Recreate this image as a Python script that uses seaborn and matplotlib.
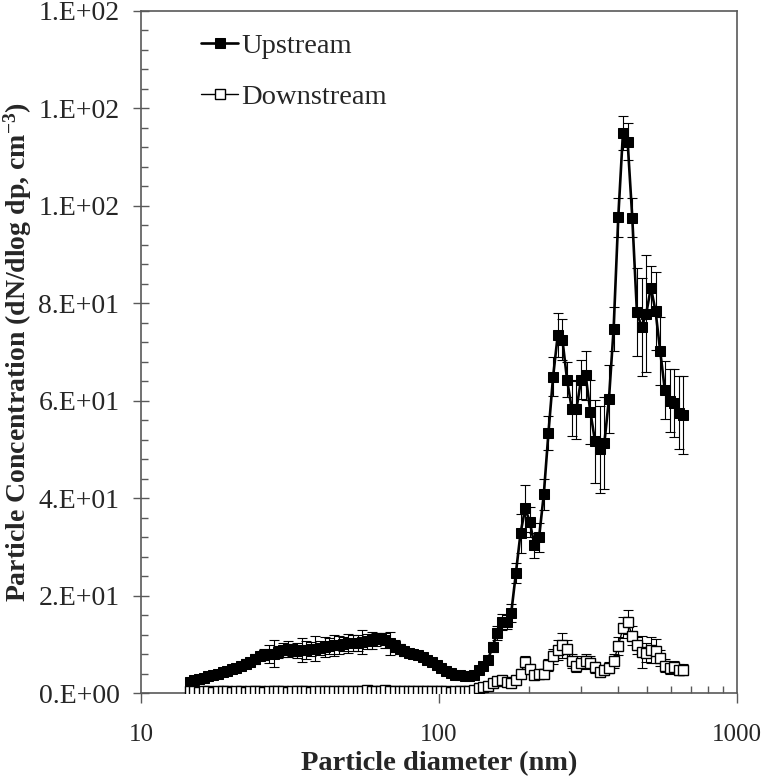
import pandas as pd
import seaborn as sns
import matplotlib.pyplot as plt
from matplotlib.ticker import FixedLocator, MultipleLocator, FuncFormatter, LogLocator, NullFormatter

# SMPS channel mid-point diameters (nm)
diameter = [14.6, 15.1, 15.7, 16.3, 16.8, 17.5, 18.1, 18.8, 19.5, 20.2,
            20.9, 21.7, 22.5, 23.3, 24.1, 25.0, 25.9, 26.9, 27.9, 28.9,
            30.0, 31.1, 32.2, 33.4, 34.6, 35.9, 37.2, 38.5, 40.0, 41.4,
            42.9, 44.5, 46.1, 47.8, 49.6, 51.4, 53.3, 55.2, 57.3, 59.4,
            61.5, 63.8, 66.1, 68.5, 71.0, 73.7, 76.4, 79.1, 82.0, 85.1,
            88.2, 91.4, 94.7, 98.2, 101.8, 105.5, 109.4, 113.4, 117.6, 121.9,
            126.3, 131.0, 135.8, 140.7, 145.9, 151.2, 156.8, 162.5, 168.5, 174.7,
            181.1, 187.7, 194.6, 201.7, 209.1, 216.7, 224.7, 232.9, 241.4, 250.3,
            259.5, 269.0, 278.8, 289.0, 299.6, 310.6, 322.0, 333.8, 346.0, 358.7,
            371.8, 385.4, 399.5, 414.2, 429.4, 445.1, 461.4, 478.3, 495.8, 514.0,
            532.8, 552.3, 572.5, 593.5, 615.3, 637.8, 661.2]

upstream = [2.3, 2.6, 2.9, 3.1, 3.4, 3.7, 4.0, 4.3, 4.6, 4.9,
            5.2, 5.5, 6.0, 6.4, 7.0, 7.6, 7.9, 8.0, 8.1, 8.4,
            8.8, 9.0, 8.8, 8.7, 8.8, 8.8, 9.0, 9.1, 9.2, 9.4,
            9.6, 9.8, 9.9, 10.1, 10.2, 10.3, 10.3, 10.5, 10.6, 10.8,
            11.0, 11.2, 10.8, 10.2, 9.6, 9.0, 8.6, 8.3, 8.1, 7.8,
            7.3, 6.8, 6.3, 5.8, 5.2, 4.6, 4.1, 3.8, 3.6, 3.5,
            3.5, 3.8, 4.7, 5.6, 6.8, 9.5, 12.3, 14.6, 14.6, 16.4,
            24.6, 32.8, 37.9, 35.1, 30.3, 32.0, 40.8, 53.4, 64.9, 73.5,
            72.5, 64.3, 58.4, 58.2, 64.3, 65.2, 57.7, 51.7, 50.0, 51.3,
            60.4, 74.8, 97.7, 115.0, 113.2, 97.6, 78.2, 75.1, 77.9, 83.2,
            78.4, 70.2, 62.2, 60.0, 59.5, 57.5, 57.0]

upstream_err = [0.6, 0.7, 0.6, 0.5, 0.6, 0.7, 0.6, 0.7, 0.8, 0.7,
                0.8, 0.7, 0.9, 0.8, 1.0, 0.9, 1.1, 1.8, 2.8, 1.2,
                1.4, 1.6, 1.2, 1.5, 2.4, 1.8, 1.5, 2.6, 1.4, 2.0,
                1.6, 2.2, 1.8, 1.4, 2.0, 1.6, 1.7, 2.4, 1.5, 1.8,
                1.4, 1.2, 1.6, 2.4, 1.2, 1.0, 0.9, 0.8, 0.7, 0.6,
                0.6, 0.5, 0.5, 0.5, 0.4, 0.4, 0.4, 0.4, 0.4, 0.4,
                0.4, 0.5, 0.6, 0.7, 0.8, 1.0, 1.4, 1.6, 1.5, 1.8,
                2.0, 4.0, 4.8, 3.0, 2.6, 3.0, 3.2, 3.5, 4.0, 4.5,
                4.2, 3.6, 5.6, 6.0, 4.0, 5.0, 6.5, 8.5, 9.0, 9.5,
                7.0, 4.5, 4.0, 3.5, 3.8, 4.0, 9.0, 10.0, 12.0, 4.5,
                8.0, 7.0, 6.0, 6.5, 7.0, 7.5, 8.0]

downstream = [0.4, 0.4, 0.3, 0.4, 0.4, 0.3, 0.4, 0.4, 0.4, 0.3,
              0.4, 0.4, 0.3, 0.4, 0.4, 0.4, 0.3, 0.4, 0.4, 0.4,
              0.4, 0.3, 0.4, 0.4, 0.4, 0.4, 0.3, 0.4, 0.4, 0.5,
              0.5, 0.4, 0.4, 0.5, 0.5, 0.4, 0.5, 0.5, 0.6, 0.5,
              0.5, 0.5, 0.6, 0.5, 0.5, 0.5, 0.5, 0.4, 0.5, 0.5,
              0.4, 0.4, 0.5, 0.4, 0.4, 0.4, 0.3, 0.4, 0.4, 0.4,
              0.4, 0.7, 1.0, 1.2, 1.4, 2.0, 2.4, 2.6, 2.2, 2.0,
              2.6, 4.0, 6.3, 5.0, 3.8, 3.9, 4.0, 5.8, 7.5, 8.8,
              9.8, 9.0, 6.6, 5.6, 6.2, 6.6, 6.2, 5.3, 4.4, 4.7,
              5.2, 6.6, 9.6, 13.4, 14.6, 11.8, 9.8, 8.4, 8.3, 8.8,
              8.6, 7.2, 5.6, 5.2, 5.4, 4.8, 4.8]

downstream_err = [0.2, 0.2, 0.2, 0.2, 0.2, 0.2, 0.2, 0.2, 0.2, 0.2,
                  0.2, 0.2, 0.2, 0.2, 0.2, 0.2, 0.2, 0.2, 0.2, 0.2,
                  0.2, 0.2, 0.2, 0.2, 0.2, 0.2, 0.2, 0.2, 0.2, 0.2,
                  0.2, 0.2, 0.2, 0.2, 0.2, 0.2, 0.2, 0.2, 0.2, 0.2,
                  0.2, 0.2, 0.2, 0.2, 0.2, 0.2, 0.2, 0.2, 0.2, 0.2,
                  0.2, 0.2, 0.2, 0.2, 0.2, 0.2, 0.2, 0.2, 0.2, 0.2,
                  0.2, 0.3, 0.3, 0.4, 0.4, 0.5, 0.6, 0.6, 0.5, 0.5,
                  0.6, 0.9, 1.3, 1.0, 0.8, 0.8, 0.9, 1.2, 1.6, 2.0,
                  2.6, 1.8, 1.4, 1.2, 1.3, 1.4, 1.3, 1.1, 1.0, 1.0,
                  1.1, 1.4, 1.8, 2.2, 2.4, 2.0, 1.8, 3.3, 2.0, 2.6,
                  2.4, 1.6, 1.3, 1.2, 1.2, 1.1, 1.1]

y_ticks = [0, 20, 40, 60, 80, 100, 120, 140]
x_ticks = [10, 100, 1000]

df = pd.DataFrame({"diameter": diameter, "upstream": upstream,
                   "downstream": downstream})

sns.set_theme(style="ticks")
plt.rcParams["font.family"] = ["Liberation Serif", "DejaVu Serif"]
plt.rcParams["mathtext.default"] = "regular"

fig = plt.figure(figsize=(7.61, 7.80), dpi=100)
ax = fig.add_axes([0.1853, 0.1115, 0.7832, 0.8744])

# error bars first, markers on top
ax.errorbar(diameter, upstream, yerr=upstream_err, fmt="none", ecolor="black",
            elinewidth=0.8, capsize=3.5, capthick=0.8, zorder=1)
ax.errorbar(diameter, downstream, yerr=downstream_err, fmt="none", ecolor="black",
            elinewidth=0.8, capsize=3.5, capthick=0.8, zorder=1)

sns.lineplot(data=df, x="diameter", y="upstream", color="black", lw=1.9,
             marker="s", markersize=7, markerfacecolor="black",
             markeredgecolor="black", label="Upstream", errorbar=None,
             ax=ax, zorder=3)
sns.lineplot(data=df, x="diameter", y="downstream", color="black", lw=1.0,
             marker="s", markersize=7, markerfacecolor="white",
             markeredgecolor="black", markeredgewidth=1.0, label="Downstream",
             errorbar=None, ax=ax, zorder=4)

ax.set_xscale("log")
ax.set_xlim(10, 1000)
ax.set_ylim(0, 140)

ax.xaxis.set_major_locator(FixedLocator(x_ticks))
ax.xaxis.set_major_formatter(FuncFormatter(lambda v, p: f"{v:.0f}"))
ax.xaxis.set_minor_locator(LogLocator(base=10, subs=range(2, 10)))
ax.xaxis.set_minor_formatter(NullFormatter())
ax.yaxis.set_major_locator(FixedLocator(y_ticks))
ax.yaxis.set_major_formatter(FuncFormatter(lambda v, p: f"{v:.0E}".replace("E", ".E")))
ax.yaxis.set_minor_locator(MultipleLocator(4))

for side in ["left", "bottom", "top", "right"]:
    ax.spines[side].set_color("#595959")
    ax.spines[side].set_linewidth(1.2)

ax.tick_params(axis="y", which="major", direction="inout", length=11, width=1,
               color="#595959", labelsize=20, pad=10)
ax.tick_params(axis="y", which="minor", direction="in", length=5, width=1,
               color="#595959")
ax.tick_params(axis="x", which="major", direction="out", length=7, width=1,
               color="#595959", labelsize=18, pad=15)
ax.tick_params(axis="x", which="minor", direction="in", length=5, width=1,
               color="#595959")

ax.set_xlabel("Particle diameter (nm)", fontsize=20.5, fontweight="bold", labelpad=4)
ax.set_ylabel("Particle Concentration (dN/dlog dp, cm$^{-3}$)", fontsize=20,
              fontweight="bold", labelpad=3)

ax.legend(loc="upper left", bbox_to_anchor=(0.082, 0.985), frameon=False,
          fontsize=20.5, handlelength=1.3, handletextpad=0.1, labelspacing=0.9,
          borderaxespad=0)

fig.savefig("out.png", dpi=100)
